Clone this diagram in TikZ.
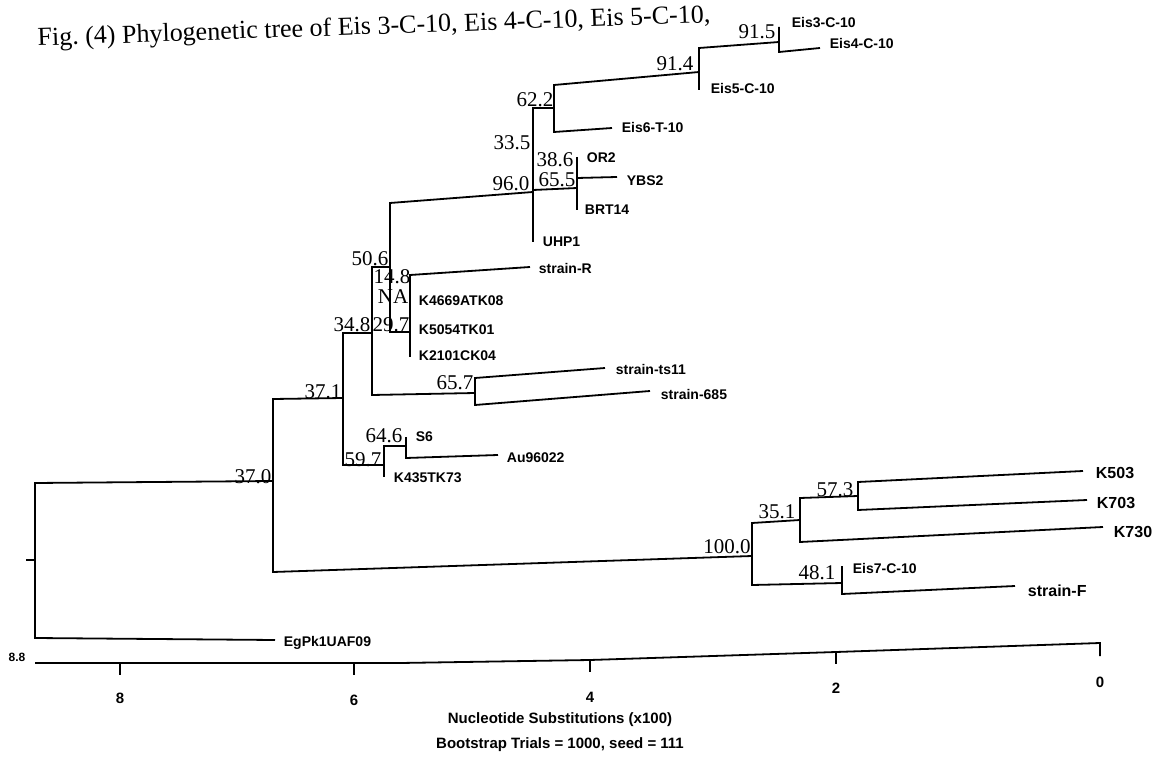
\documentclass[tikz,border=0pt]{standalone}
\usepackage{fontspec}
\setmainfont{Liberation Serif}
\setsansfont{Liberation Sans}
\usetikzlibrary{positioning}
\frenchspacing
\tikzset{
  every picture/.style={line width=1.8pt},
  branch/.style={line width=1.8pt, line join=miter},
  leaf/.style={font=\sffamily\bfseries\fontsize{14}{14}\selectfont, anchor=west, inner sep=0pt},
  bigleaf/.style={leaf, font=\sffamily\bfseries\fontsize{16}{16}\selectfont},
  boot/.style={font=\fontsize{21}{21}\selectfont, inner sep=0pt},
  axtick/.style={line width=1.8pt},
  axlabel/.style={font=\sffamily\bfseries\fontsize{15}{15}\selectfont, inner sep=0pt},
  caption/.style={font=\sffamily\bfseries\fontsize{15}{15}\selectfont, inner sep=0pt},
  figtitle/.style={font=\fontsize{26}{26}\selectfont, inner sep=0pt, anchor=base west, rotate=2},
}

\begin{document}
\begin{tikzpicture}[x=1pt, y=-1pt]
  \useasboundingbox (0,0) rectangle (1157,767);
  % title
  \node[figtitle] (ttl) at (37,46) {Fig. (4) Phylogenetic tree of Eis 3-C-10, Eis 4-C-10, Eis 5-C-10,};
  % root and outgroup
  \draw[branch] (273,481) -- (35,483) -- (35,638) -- (275,640);
  \draw[branch] (26,560) -- (35,560);
  % upper clade
  \draw[branch] (343,398) -- (273,399) -- (273,572) -- (752,556);
  \draw[branch] (372,333) -- (343,333) -- (343,465) -- (384,465);
  \draw[branch] (406,446) -- (384,446) -- (384,477);
  \draw[branch] (406,437) -- (406,458) -- (498,455);
  \draw[branch] (390,267) -- (372,267) -- (372,395) -- (475,393);
  \draw[branch] (605,368) -- (475,378) -- (475,405) -- (650,391);
  \draw[branch] (533,192) -- (390,203) -- (390,332) -- (410,332);
  \draw[branch] (530,267) -- (410,275) -- (410,357);
  \draw[branch] (554,108) -- (533,108) -- (533,242);
  \draw[branch] (533,190) -- (577,188);
  \draw[branch] (577,157) -- (577,210);
  \draw[branch] (577,178) -- (617,177);
  \draw[branch] (699,72) -- (554,85) -- (554,132) -- (612,128);
  \draw[branch] (779,42) -- (699,48) -- (699,90);
  \draw[branch] (779,27) -- (779,52) -- (820,48);
  % lower clade
  \draw[branch] (800,520) -- (752,523) -- (752,585) -- (842,583);
  \draw[branch] (858,496) -- (800,498) -- (800,542) -- (1103,527);
  \draw[branch] (1083,471) -- (858,482) -- (858,510) -- (1087,500);
  \draw[branch] (842,566) -- (842,594) -- (1015,586);
  % bootstrap values
  \node[boot] (b915) at (757,32) {91.5};
  \node[boot] (b914) at (675,64) {91.4};
  \node[boot] (b622) at (535,100) {62.2};
  \node[boot] (b335) at (512,143) {33.5};
  \node[boot] (b386) at (555,160) {38.6};
  \node[boot] (b655) at (557,180) {65.5};
  \node[boot] (b960) at (511,184) {96.0};
  \node[boot] (b506) at (370,259) {50.6};
  \node[boot] (b148) at (392,277) {14.8};
  \node[boot] (bna) at (393,297) {NA};
  \node[boot] (b297) at (391,325) {29.7};
  \node[boot] (b348) at (352,325) {34.8};
  \node[boot] (b657) at (455,383) {65.7};
  \node[boot] (b371) at (323,392) {37.1};
  \node[boot] (b646) at (384,436) {64.6};
  \node[boot] (b597) at (363,460) {59.7};
  \node[boot] (b370) at (253,477) {37.0};
  \node[boot] (b1000) at (727,547) {100.0};
  \node[boot] (b351) at (777,512) {35.1};
  \node[boot] (b573) at (835,490) {57.3};
  \node[boot] (b481) at (817,573) {48.1};
  % taxa
  \node[leaf] (eis3) at (791,23) {Eis3-C-10};
  \node[leaf] (eis4) at (829,44) {Eis4-C-10};
  \node[leaf] (eis5) at (710,88) {Eis5-C-10};
  \node[leaf] (eis6) at (621,127) {Eis6-T-10};
  \node[leaf] (or2) at (586,158) {OR2};
  \node[leaf] (ybs2) at (626,181) {YBS2};
  \node[leaf] (brt14) at (584,210) {BRT14};
  \node[leaf] (uhp1) at (542,242) {UHP1};
  \node[leaf] (strR) at (538,268) {strain-R};
  \node[leaf] (k4669) at (418,301) {K4669ATK08};
  \node[leaf] (k5054) at (418,330) {K5054TK01};
  \node[leaf] (k2101) at (418,356) {K2101CK04};
  \node[leaf] (strts) at (615,369) {strain-ts11};
  \node[leaf] (str685) at (660,394) {strain-685};
  \node[leaf] (s6) at (415,437) {S6};
  \node[leaf] (au96) at (506,458) {Au96022};
  \node[leaf] (k435) at (393,478) {K435TK73};
  \node[bigleaf] (k503) at (1095,473) {K503};
  \node[bigleaf] (k703) at (1096,503) {K703};
  \node[bigleaf] (k730) at (1113,532) {K730};
  \node[leaf] (eis7) at (852,568) {Eis7-C-10};
  \node[bigleaf] (strF) at (1027,591) {strain-F};
  \node[leaf] (egpk) at (283,643) {EgPk1UAF09};
  % scale axis
  \draw[axtick] (35,663) -- (400,663) -- (590,660) -- (836,652) -- (1100,643) -- (1100,656);
  \foreach \tx/\ty in {120/663, 354/663, 590/660, 836/652}
    \draw[axtick] (\tx,\ty) -- (\tx,\ty+12);
  \node[axlabel, font=\sffamily\bfseries\fontsize{12}{12}\selectfont] (ax88) at (17,657) {8.8};
  \node[axlabel] (ax8) at (120,698) {8};
  \node[axlabel] (ax6) at (354,700) {6};
  \node[axlabel] (ax4) at (590,697) {4};
  \node[axlabel] (ax2) at (836,688) {2};
  \node[axlabel] (ax0) at (1100,682) {0};
  \node[caption] (xlab) at (560,720) {Nucleotide Substitutions (x100)};
  \node[caption] (boot) at (560,745) {Bootstrap Trials = 1000, seed = 111};
\end{tikzpicture}
\end{document}
